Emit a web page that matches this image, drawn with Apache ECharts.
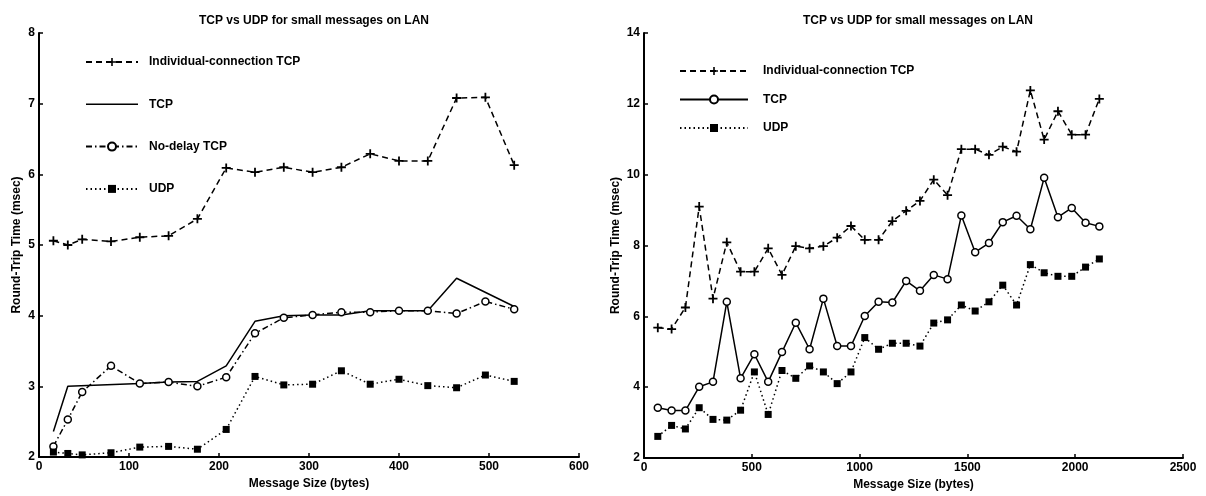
<!DOCTYPE html>
<html>
<head>
<meta charset="utf-8">
<title>TCP vs UDP for small messages on LAN</title>
<script src="https://cdn.jsdelivr.net/npm/echarts@6/dist/echarts.min.js"></script>
<style>
html, body { margin: 0; padding: 0; background: #fff; }
#main { width: 1206px; height: 496px; }
</style>
</head>
<body>
<div id="main"></div>
<script>
// left plot: messages up to ~530 bytes
var smallSizes = [16, 32, 48, 80, 112, 144, 176, 208, 240, 272, 304, 336, 368, 400, 432, 464, 496, 528];
var smallIndividual = [5.06, 5.0, 5.08, 5.05, 5.11, 5.13, 5.37, 6.09, 6.03, 6.1, 6.03, 6.1, 6.29, 6.19, 6.19, 7.08, 7.09, 6.13];
var smallNoDelay = [2.15, 2.53, 2.92, 3.29, 3.04, 3.06, 3.0, 3.13, 3.75, 3.97, 4.01, 4.05, 4.05, 4.07, 4.07, 4.03, 4.2, 4.09];
var smallUdp = [2.07, 2.05, 2.03, 2.06, 2.14, 2.15, 2.11, 2.39, 3.14, 3.02, 3.03, 3.22, 3.03, 3.1, 3.01, 2.98, 3.16, 3.07];
// the plain TCP curve has no markers and fewer corners
var smallTcpSizes = [16, 32, 112, 144, 176, 208, 240, 272, 304, 336, 368, 400, 432, 464, 528];
var smallTcp = [2.36, 3.0, 3.04, 3.06, 3.07, 3.29, 3.92, 4.0, 4.01, 4.01, 4.07, 4.07, 4.07, 4.53, 4.13];

// right plot: 64 byte steps
var largeSizes = [64, 128, 192, 256, 320, 384, 448, 512, 576, 640, 704, 768, 832, 896, 960, 1024, 1088,
    1152, 1216, 1280, 1344, 1408, 1472, 1536, 1600, 1664, 1728, 1792, 1856, 1920, 1984, 2048, 2112];
var largeIndividual = [5.68, 5.64, 6.25, 9.1, 6.5, 8.09, 7.26, 7.26, 7.92, 7.17, 7.98, 7.92, 7.98, 8.22, 8.55, 8.16, 8.16,
    8.69, 8.98, 9.26, 9.86, 9.42, 10.72, 10.72, 10.56, 10.79, 10.65, 12.38, 10.99, 11.79, 11.13, 11.13, 12.14];
var largeTcp = [3.42, 3.34, 3.34, 4.01, 4.15, 6.41, 4.25, 4.93, 4.15, 4.99, 5.82, 5.07, 6.5, 5.16, 5.16, 6.01, 6.41,
    6.39, 7.0, 6.72, 7.17, 7.05, 8.85, 7.81, 8.07, 8.66, 8.84, 8.46, 9.91, 8.8, 9.06, 8.64, 8.54];
var largeUdp = [2.61, 2.92, 2.82, 3.42, 3.09, 3.07, 3.35, 4.43, 3.23, 4.47, 4.25, 4.6, 4.43, 4.1, 4.43, 5.4, 5.07,
    5.24, 5.24, 5.16, 5.81, 5.9, 6.32, 6.15, 6.41, 6.88, 6.32, 7.46, 7.23, 7.13, 7.13, 7.39, 7.62];

var titleText = 'TCP vs UDP for small messages on LAN';
var font = 'Liberation Sans';
var plus = 'path://M4,0h2v4h4v2h-4v4h-2v-4h-4v-2h4z';
// plain line for the marker-less TCP legend entry (tiny corner dots fix the box)
var plainLine = 'path://M0,0h0.1v0.1h-0.1z M0,4.25h52v1.5h-52z M51.9,9.9h0.1v0.1h-0.1z';

function pairs(xs, ys) {
    return xs.map(function (x, i) { return [x, ys[i]]; });
}

var txt = { color: '#000', fontFamily: font, fontSize: 12, fontWeight: 'bold' };

function xAxis(idx, max, interval) {
    return {
        type: 'value', gridIndex: idx, min: 0, max: max, interval: interval,
        name: 'Message Size (bytes)', nameLocation: 'middle', nameGap: 20, nameTextStyle: txt,
        axisLine: { lineStyle: { color: '#000', width: 2 } },
        axisTick: { inside: true, length: 4, lineStyle: { color: '#000', width: 1.5 } },
        axisLabel: { color: '#000', fontFamily: font, fontSize: 12, fontWeight: 'bold', margin: 4,
            formatter: function (v) { return String(v); } },
        splitLine: { show: false }
    };
}

function yAxis(idx, min, max, interval, gap) {
    return {
        type: 'value', gridIndex: idx, min: min, max: max, interval: interval,
        name: 'Round-Trip Time (msec)', nameLocation: 'middle', nameGap: gap, nameTextStyle: txt,
        axisLine: { lineStyle: { color: '#000', width: 2 } },
        axisTick: { inside: true, length: 4, lineStyle: { color: '#000', width: 1.5 } },
        axisLabel: { color: '#000', fontFamily: font, fontSize: 12, fontWeight: 'bold', margin: 4 },
        splitLine: { show: false }
    };
}

function line(name, idx, data, dash, symbol, size, filled) {
    return {
        name: name, type: 'line', xAxisIndex: idx, yAxisIndex: idx,
        data: data, animation: false,
        symbol: symbol || 'none', symbolSize: size || 0, showSymbol: !!symbol,
        lineStyle: { color: '#000', width: 1.5, type: dash },
        itemStyle: { color: filled ? '#000' : '#fff', borderColor: '#000', borderWidth: filled ? 0 : 1.5 }
    };
}

var option = {
    backgroundColor: '#fff',
    title: [
        { text: titleText, left: 309, top: 10, textAlign: 'center', textStyle: txt },
        { text: titleText, left: 913, top: 10, textAlign: 'center', textStyle: txt }
    ],
    legend: [
        {
            orient: 'vertical', left: 80, top: 51, itemWidth: 52, itemHeight: 10, itemGap: 30.3,
            selectedMode: false,
            textStyle: { color: '#000', fontFamily: font, fontSize: 12, fontWeight: 'bold', padding: [0, 0, 0, 6] },
            data: ['Individual-connection TCP', { name: 'TCP', icon: plainLine }, 'No-delay TCP', 'UDP'],
            formatter: function (n) { return n.split('#')[0]; }
        },
        {
            orient: 'vertical', left: 674, top: 60, itemWidth: 68, itemHeight: 10, itemGap: 16.5,
            selectedMode: false,
            textStyle: { color: '#000', fontFamily: font, fontSize: 12, fontWeight: 'bold', padding: [0, 0, 0, 10] },
            data: ['Individual-connection TCP#2', 'TCP#2', 'UDP#2'],
            formatter: function (n) { return n.split('#')[0]; }
        }
    ],
    grid: [
        { left: 39, top: 33, width: 540, height: 424 },
        { left: 644, top: 33, width: 539, height: 425 }
    ],
    xAxis: [xAxis(0, 600, 100), xAxis(1, 2500, 500)],
    yAxis: [yAxis(0, 2, 8, 1, 16), yAxis(1, 2, 14, 2, 22)],
    series: [
        line('Individual-connection TCP', 0, pairs(smallSizes, smallIndividual), [6, 4], plus, 9, true),
        line('TCP', 0, pairs(smallTcpSizes, smallTcp), 'solid', null, 0, true),
        line('No-delay TCP', 0, pairs(smallSizes, smallNoDelay), [6, 3, 1.5, 3], 'circle', 7, false),
        line('UDP', 0, pairs(smallSizes, smallUdp), [1.5, 3], 'rect', 7, true),
        line('Individual-connection TCP#2', 1, pairs(largeSizes, largeIndividual), [6, 4], plus, 9, true),
        line('TCP#2', 1, pairs(largeSizes, largeTcp), 'solid', 'circle', 7, false),
        line('UDP#2', 1, pairs(largeSizes, largeUdp), [1.5, 3], 'rect', 7, true)
    ]
};

var chart = echarts.init(document.getElementById('main'));
chart.setOption(option);
</script>
</body>
</html>
